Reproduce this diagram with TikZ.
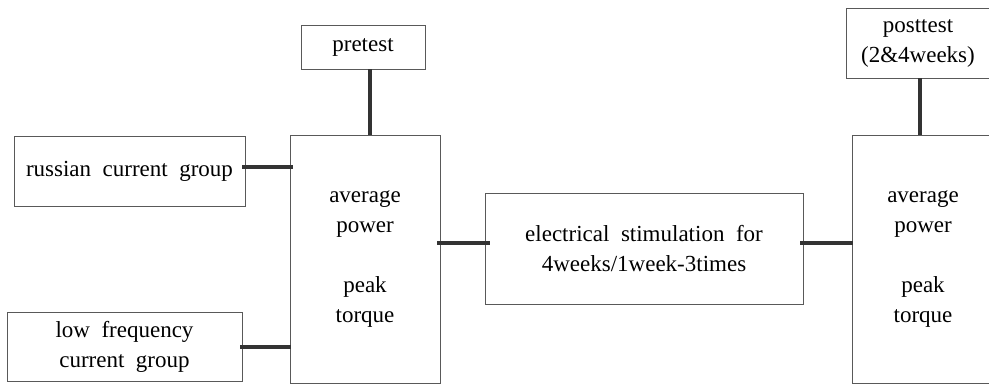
\documentclass[tikz,border=0pt]{standalone}
\usepackage{fontspec}
\setmainfont{Liberation Serif}
\begin{document}
\begin{tikzpicture}[x=1pt,y=-1pt,
  box/.style={draw=black!65,line width=1pt,inner sep=0pt,outer sep=0pt,anchor=north west,align=center,
    font=\fontsize{23}{30}\selectfont},
  conn/.style={draw=black!80,line width=3.5pt}]
\useasboundingbox (0,0) rectangle (989,384);
\clip (0,0) rectangle (989,384);
\node[box,minimum width=124pt,minimum height=44pt] (pre) at (301,25) {pretest};
\node[box,minimum width=231pt,minimum height=70pt] (rus) at (14,136) {russian\ \ current\ \ group};
\node[box,minimum width=235pt,minimum height=69pt] (low) at (7,312) {low\ \ frequency\\current\ \ group};
\node[box,minimum width=150pt,minimum height=248pt] (avgA) at (290,135) {average\\power\\[30pt]peak\\torque};
\node[box,minimum width=318pt,minimum height=111pt] (mid) at (485,193) {electrical\ \ stimulation\ \ for\\4weeks/1week-3times};
\node[box,minimum width=142pt,minimum height=248pt] (avgB) at (852,135) {average\\power\\[30pt]peak\\torque};
\node[box,minimum width=144pt,minimum height=70pt] (post) at (846,8) {posttest\\(2\&4weeks)};
\coordinate (cpre) at (370,0);
\coordinate (cpost) at (920,0);
\coordinate (crus) at (0,167);
\coordinate (clow) at (0,347);
\coordinate (cmid) at (0,243);
\draw[conn] (pre.south -| cpre) -- (avgA.north -| cpre);
\draw[conn] ([xshift=-3pt]rus.east |- crus) -- ([xshift=3pt]avgA.west |- crus);
\draw[conn] ([xshift=-2pt]low.east |- clow) -- ([xshift=1pt]avgA.west |- clow);
\draw[conn] ([xshift=-3pt]avgA.east |- cmid) -- ([xshift=5pt]mid.west |- cmid);
\draw[conn] ([xshift=-3pt]mid.east |- cmid) -- ([xshift=1pt]avgB.west |- cmid);
\draw[conn] (post.south -| cpost) -- (avgB.north -| cpost);
\end{tikzpicture}
\end{document}
